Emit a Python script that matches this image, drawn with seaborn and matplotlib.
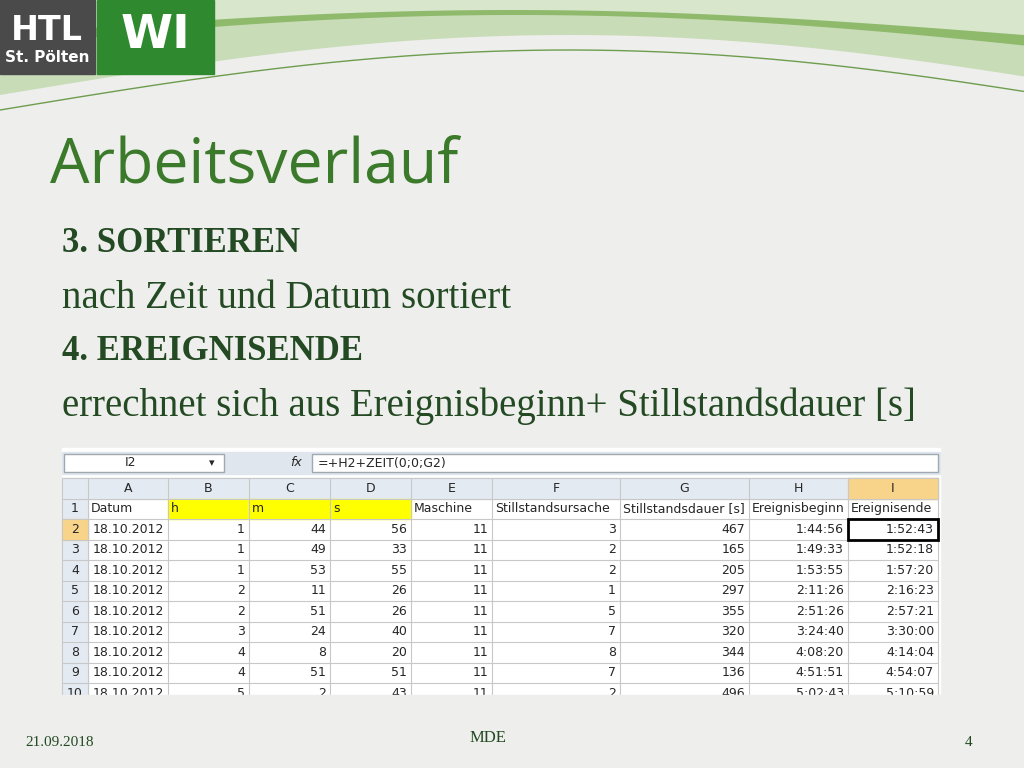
import matplotlib
matplotlib.use("Agg")
import matplotlib.pyplot as plt
import matplotlib.patches as mpatches
import seaborn as sns
import numpy as np

sns.set_theme(style="white")

# ---- data ----
col_letters = ["A", "B", "C", "D", "E", "F", "G", "H", "I"]
header_row = ["Datum", "h", "m", "s", "Maschine", "Stillstandsursache",
              "Stillstandsdauer [s]", "Ereignisbeginn", "Ereignisende"]
datum = ["18.10.2012"] * 9
stunde = [1, 1, 1, 2, 2, 3, 4, 4, 5]
minute = [44, 49, 53, 11, 51, 24, 8, 51, 2]
sekunde = [56, 33, 55, 26, 26, 40, 20, 51, 43]
maschine = [11] * 9
ursache = [3, 2, 2, 1, 5, 7, 8, 7, 2]
dauer = [467, 165, 205, 297, 355, 320, 344, 136, 496]
beginn = ["1:44:56", "1:49:33", "1:53:55", "2:11:26", "2:51:26",
          "3:24:40", "4:08:20", "4:51:51", "5:02:43"]
ende = ["1:52:43", "1:52:18", "1:57:20", "2:16:23", "2:57:21",
        "3:30:00", "4:14:04", "4:54:07", "5:10:59"]

fig = plt.figure(figsize=(10.24, 7.68), dpi=100)
fig.patch.set_facecolor("#eeeeec")
ax = fig.add_axes([0, 0, 1, 1])
ax.set_xlim(0, 1024)
ax.set_ylim(768, 0)
ax.axis("off")

# ---- top decoration ----
xs = np.linspace(0, 1024, 200)
ax.fill_between(xs, 0, 95 - 60 * np.sin(xs / 1024 * np.pi * 0.9), color="#c9dcb8", lw=0)
ax.fill_between(xs, 0, 60 - 45 * np.sin(xs / 1024 * np.pi * 0.8 + 0.3), color="#8fba6c", lw=0)
ax.fill_between(xs, 0, 35 - 25 * np.sin(xs / 1024 * np.pi), color="#d8e6cc", lw=0)
ax.plot(xs, 110 - 60 * np.sin(xs / 1024 * np.pi * 0.9), color="#6e9d4e", lw=1)
ax.add_patch(mpatches.Rectangle((0, 0), 95, 74, color="#4a4a4a"))
ax.add_patch(mpatches.Rectangle((97, 0), 117, 74, color="#2f8a2f"))
ax.text(47, 30, "HTL", color="white", fontsize=24, fontweight="bold", ha="center", va="center", family="DejaVu Sans")
ax.text(47, 57, "St. Pölten", color="white", fontsize=11, fontweight="bold", ha="center", va="center")
ax.text(155, 36, "WI", color="white", fontsize=34, fontweight="bold", ha="center", va="center")

# ---- title and text ----
ax.text(50, 166, "Arbeitsverlauf", color="#3b7a2a", fontsize=45, va="center", family="Open Sans")
green = "#234a23"
lines = [("3. SORTIEREN", 244, "bold", 25), ("nach Zeit und Datum sortiert", 298, "normal", 28),
         ("4. EREIGNISENDE", 352, "bold", 25),
         ("errechnet sich aus Ereignisbeginn+ Stillstandsdauer [s]", 406, "normal", 28)]
for txt, y, w, fs in lines:
    ax.text(62, y, txt, color=green, fontsize=fs, fontweight=w, va="center", family="Liberation Serif")

# ---- spreadsheet ----
col_x = [62, 88, 168, 249, 330, 411, 492, 620, 749, 848, 938]
top, bottom = 478, 695
row_h = 20.5
grid = "#c8c8c8"
ax.add_patch(mpatches.Rectangle((62, 448), 878, 247, color="white", zorder=1))
# formula bar
ax.add_patch(mpatches.Rectangle((62, 452), 878, 22, color="#dfe6ee", zorder=1))
ax.add_patch(mpatches.Rectangle((64, 454), 160, 18, facecolor="white", edgecolor="#a0a8b0", zorder=2))
ax.add_patch(mpatches.Rectangle((312, 454), 626, 18, facecolor="white", edgecolor="#a0a8b0", zorder=2))
ax.text(130, 463, "I2", fontsize=9, va="center", ha="center", zorder=3)
ax.text(212, 463, "▾", fontsize=8, va="center", ha="center", zorder=3)
ax.text(296, 463, "fx", fontsize=9, style="italic", va="center", ha="center", zorder=3)
ax.text(318, 463, "=+H2+ZEIT(0;0;G2)", fontsize=9, va="center", zorder=3)

# column header band
ax.add_patch(mpatches.Rectangle((62, top), 876, row_h, color="#e4eaf2", zorder=1))
ax.add_patch(mpatches.Rectangle((62, top + row_h), 26, bottom - top - row_h, color="#e4eaf2", zorder=1))
ax.add_patch(mpatches.Rectangle((col_x[9], top), col_x[10] - col_x[9], row_h, color="#f8d48a", zorder=1))
ax.add_patch(mpatches.Rectangle((62, top + 2 * row_h), 26, row_h, color="#f8d48a", zorder=1))
ax.add_patch(mpatches.Rectangle((col_x[2], top + row_h), col_x[5] - col_x[2], row_h, color="#ffff00", zorder=1))
for i, c in enumerate(col_letters):
    ax.text((col_x[i + 1] + col_x[i + 2]) / 2, top + row_h / 2, c, fontsize=9, ha="center", va="center", zorder=3)

body = [datum, stunde, minute, sekunde, maschine, ursache, dauer, beginn, ende]
n_rows = 10
for r in range(n_rows):
    y = top + (r + 1) * row_h + row_h / 2
    ax.text(75, y, str(r + 1), fontsize=9, ha="center", va="center", zorder=3)
    for c in range(9):
        if r == 0:
            ax.text(col_x[c + 1] + 3, y, header_row[c], fontsize=9, va="center", zorder=3)
        else:
            v = body[c][r - 1]
            ax.text(col_x[c + 2] - 4, y, str(v), fontsize=9, ha="right", va="center", zorder=3)

for x in col_x:
    ax.plot([x, x], [top, bottom], color=grid, lw=0.8, zorder=2)
for r in range(n_rows + 2):
    y = top + r * row_h
    if y <= bottom:
        ax.plot([62, 938], [y, y], color=grid, lw=0.8, zorder=2)
# active cell
ax.add_patch(mpatches.Rectangle((col_x[9], top + 2 * row_h), col_x[10] - col_x[9], row_h,
                                fill=False, edgecolor="black", lw=2, zorder=4))
# cover partial row below
ax.add_patch(mpatches.Rectangle((55, bottom), 900, 20, color="#eeeeec", zorder=5))

# ---- footer ----
ax.text(25, 742, "21.09.2018", fontsize=11, color=green, va="center", family="Liberation Serif")
ax.text(488, 738, "MDE", fontsize=12, color=green, va="center", ha="center", family="Liberation Serif")
ax.text(972, 742, "4", fontsize=11, color=green, va="center", ha="right", family="Liberation Serif")

fig.savefig("out.png", dpi=100)
